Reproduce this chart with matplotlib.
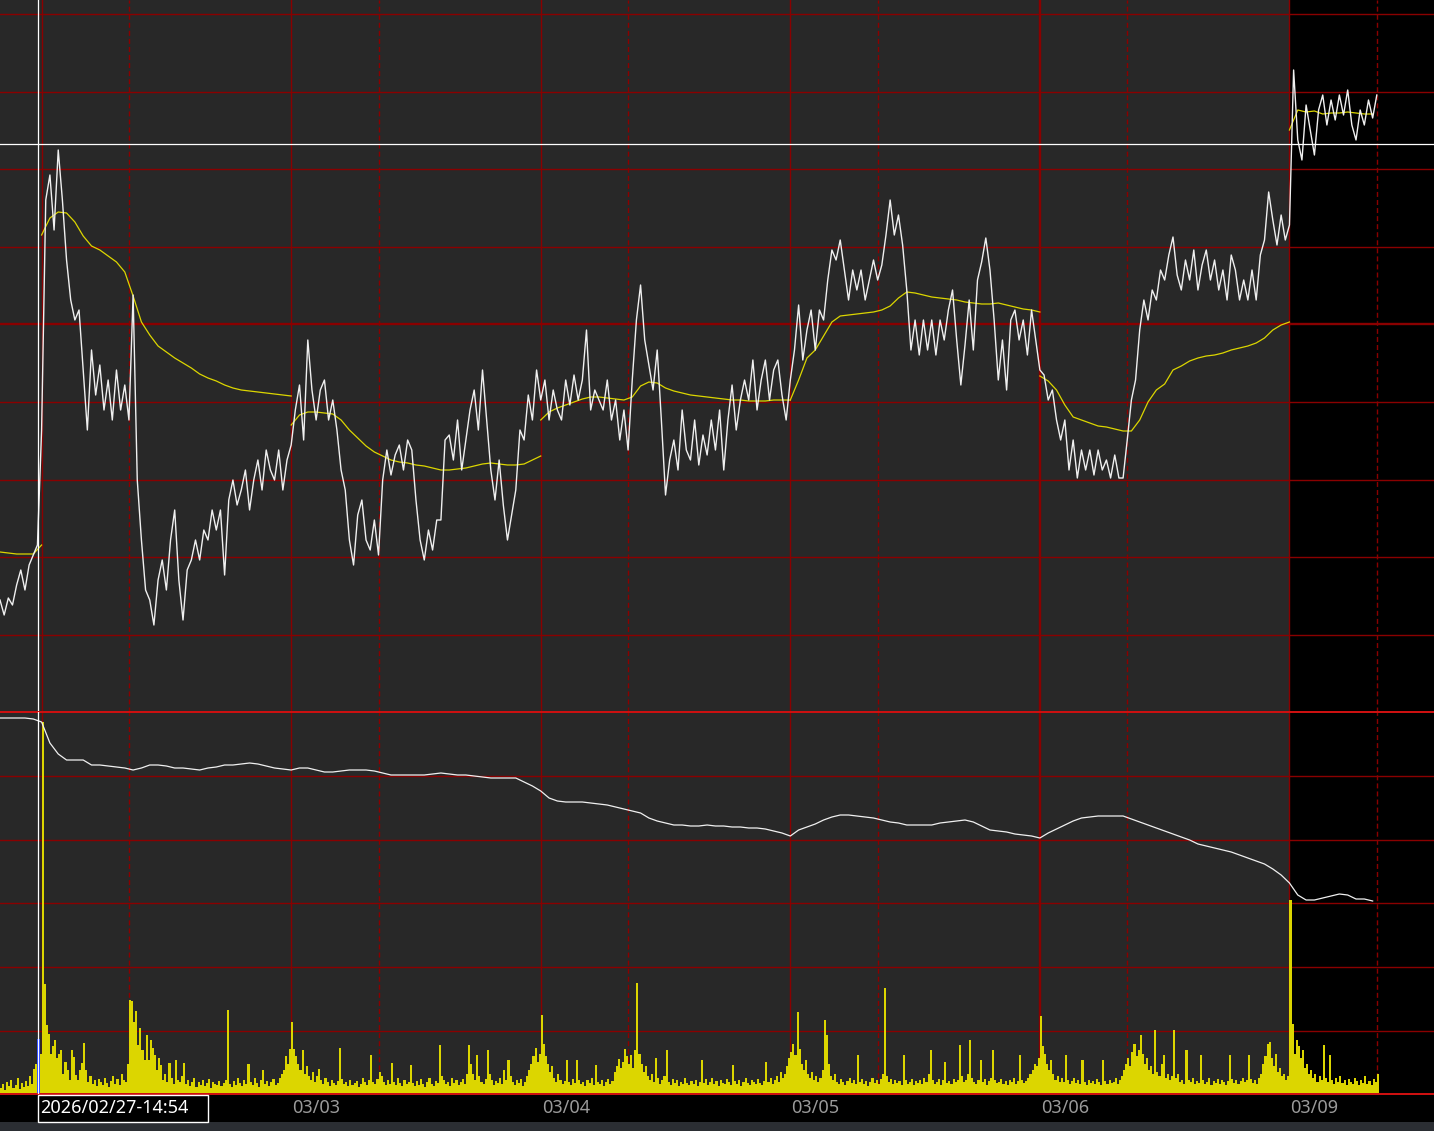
import matplotlib
matplotlib.use("Agg")
import matplotlib.pyplot as plt
import numpy as np
from matplotlib.patches import Rectangle

# 5-minute bars, one trading day = 240 bars, the first 84 of them the day session
DAY_SESSION_BARS = 84
DAY_STARTS = [40, 280, 520, 760, 1000, 1240]
DATE_LABELS = ["03/02", "03/03", "03/04", "03/05", "03/06", "03/09"]
CURSOR_BAR = 36.5
CURSOR_PRICE = 568
CURSOR_LABEL = "2026/02/27-14:54"

# price, one sample every 4 bars
PRICE_STEP = 4
price = [
    112, 97, 114, 107, 127, 142, 122, 147, 157, 167,
    282, 512, 537, 482, 562, 512, 452, 412, 392, 402,
    342, 282, 362, 317, 347, 302, 332, 292, 342, 302,
    327, 292, 417, 232, 172, 122, 112, 87, 132, 152,
    122, 172, 202, 132, 92, 142, 152, 172, 152, 182,
    172, 202, 182, 202, 137, 212, 232, 207, 222, 242,
    202, 232, 252, 222, 262, 242, 232, 262, 222, 252,
    267, 302, 327, 272, 372, 322, 292, 322, 332, 292,
    312, 282, 242, 222, 172, 147, 197, 212, 172, 162,
    192, 157, 232, 262, 237, 257, 267, 242, 272, 262,
    212, 172, 152, 182, 162, 192, 192, 272, 277, 252,
    292, 242, 272, 302, 322, 282, 342, 292, 242, 212,
    252, 207, 172, 197, 222, 282, 272, 317, 292, 342,
    312, 332, 292, 322, 302, 292, 332, 307, 337, 312,
    332, 382, 302, 322, 312, 302, 332, 292, 312, 272,
    302, 262, 332, 392, 427, 372, 347, 322, 362, 292,
    217, 252, 272, 242, 302, 262, 252, 292, 247, 277,
    257, 292, 262, 302, 242, 292, 327, 282, 312, 332,
    312, 352, 302, 332, 352, 312, 342, 352, 317, 292,
    332, 362, 407, 352, 382, 402, 362, 402, 392, 432,
    462, 452, 472, 442, 412, 442, 422, 442, 412, 432,
    452, 432, 447, 477, 512, 477, 497, 467, 422, 362,
    392, 357, 392, 362, 392, 357, 392, 372, 402, 422,
    372, 327, 367, 412, 362, 432, 450, 474, 442, 392,
    332, 372, 322, 392, 402, 372, 392, 357, 402, 372,
    342, 337, 312, 322, 292, 272, 292, 242, 272, 234,
    262, 242, 262, 237, 262, 242, 252, 234, 257, 234,
    234, 272, 312, 332, 382, 412, 392, 422, 412, 442,
    432, 457, 475, 437, 422, 452, 432, 462, 422, 447,
    462, 432, 452, 422, 442, 412, 457, 442, 412, 432,
    412, 442, 412, 457, 472, 520, 492, 467, 497, 472,
    487, 642, 572, 552, 607, 582, 557, 602, 617, 587,
    612, 592, 617, 597, 622, 587, 572, 602, 587, 612,
    594, 617,
]

# daily VWAP, one sample every 8 bars, restarting at each day start
VWAP_STEP = 8
vwap_prev = [160, 159, 158, 158, 158, 167]
vwap_days = [
    [477, 494, 500, 499, 490, 476, 466, 462, 456, 450, 440, 416, 390, 377, 366, 360,
     354, 349, 344, 338, 334, 331, 327, 324, 322, 321, 320, 319, 318, 317, 316],
    [287, 297, 300, 300, 299, 298, 292, 282, 274, 266, 260, 256, 252, 250, 249, 247,
     246, 244, 242, 242, 243, 244, 246, 248, 249, 248, 247, 247, 248, 252, 256],
    [292, 300, 304, 307, 310, 313, 315, 315, 314, 313, 312, 315, 326, 330, 329, 324,
     321, 319, 317, 316, 315, 314, 313, 312, 312, 311, 311, 311, 312, 312, 312],
    [312, 332, 354, 362, 376, 390, 396, 397, 398, 399, 400, 402, 406, 414, 420, 419,
     417, 415, 414, 413, 412, 410, 409, 408, 408, 409, 407, 405, 403, 402, 400],
    [336, 331, 322, 307, 295, 292, 289, 286, 285, 283, 281, 281, 292, 310, 322, 328,
     342, 346, 351, 354, 356, 357, 359, 362, 364, 366, 369, 374, 382, 387, 390],
    [582, 602, 600, 601, 598, 599, 599, 600, 599, 598, 598],
]

# lower-panel indicator, one sample every 8 bars
IND_STEP = 8
indicator = [
    376, 376, 376, 376, 375, 372, 351, 340, 334, 334,
    334, 329, 329, 328, 327, 326, 324, 326, 329, 329,
    328, 326, 326, 325, 324, 326, 327, 329, 329, 330,
    331, 330, 328, 326, 325, 324, 326, 326, 324, 322,
    322, 323, 324, 324, 324, 323, 321, 319, 319, 319,
    319, 319, 320, 321, 320, 319, 319, 318, 317, 316,
    316, 316, 316, 312, 308, 303, 296, 293, 292, 292,
    292, 291, 290, 289, 287, 285, 283, 281, 276, 273,
    271, 269, 269, 268, 268, 269, 268, 268, 267, 267,
    266, 266, 265, 263, 261, 258, 264, 267, 270, 274,
    277, 279, 279, 278, 277, 276, 274, 272, 271, 269,
    269, 269, 269, 271, 272, 273, 274, 272, 268, 264,
    263, 262, 260, 259, 258, 256, 261, 265, 269, 273,
    276, 277, 278, 278, 278, 278, 275, 272, 269, 266,
    263, 260, 257, 254, 250, 248, 246, 244, 242, 239,
    236, 233, 230, 225, 219, 211, 199, 194, 194, 196,
    198, 200, 199, 195, 195, 193,
]

# volume, one value per 2 bars
VOL_STEP = 2
volume = [
    6, 10, 4, 12, 8, 14, 6, 9, 16, 5, 11, 7, 13, 8, 18, 10, 25, 30, 55, 40,
    372, 110, 69, 60, 40, 48, 54, 36, 40, 44, 20, 32, 24, 14, 44, 37, 19, 14, 24, 31,
    51, 24, 12, 18, 10, 14, 8, 15, 12, 9, 16, 11, 7, 13, 18, 10, 15, 9, 20, 14,
    12, 30, 94, 93, 72, 83, 49, 66, 44, 34, 59, 34, 54, 46, 39, 24, 36, 29, 14, 20,
    12, 31, 16, 10, 34, 14, 12, 18, 31, 10, 14, 8, 12, 16, 7, 12, 9, 14, 8, 11,
    15, 6, 12, 10, 9, 13, 8, 11, 14, 84, 10, 7, 13, 9, 16, 11, 8, 14, 10, 30,
    12, 9, 16, 11, 7, 14, 24, 10, 13, 8, 12, 15, 9, 11, 16, 20, 24, 38, 30, 45,
    72, 45, 38, 30, 24, 44, 20, 28, 18, 14, 22, 12, 18, 25, 14, 10, 16, 12, 8, 14,
    11, 9, 13, 46, 15, 10, 12, 8, 14, 9, 11, 13, 7, 10, 16, 12, 9, 14, 39, 12,
    10, 15, 22, 18, 12, 9, 14, 10, 31, 12, 9, 16, 11, 8, 14, 10, 12, 29, 11, 8,
    13, 9, 15, 10, 7, 12, 16, 10, 8, 13, 11, 49, 18, 14, 10, 12, 8, 16, 11, 14,
    9, 12, 15, 10, 20, 49, 30, 20, 14, 39, 18, 12, 10, 15, 44, 20, 14, 9, 13, 11,
    16, 10, 24, 14, 34, 18, 12, 9, 14, 11, 15, 8, 12, 18, 24, 30, 38, 46, 32, 40,
    79, 50, 38, 30, 22, 28, 16, 12, 20, 14, 10, 13, 34, 12, 9, 15, 11, 34, 14, 10,
    12, 8, 14, 11, 16, 9, 29, 12, 10, 14, 8, 12, 15, 10, 13, 22, 28, 35, 26, 32,
    45, 38, 30, 39, 26, 44, 111, 40, 30, 22, 28, 18, 14, 20, 12, 36, 16, 10, 14, 18,
    44, 12, 9, 15, 11, 14, 8, 12, 10, 16, 11, 9, 13, 10, 14, 8, 12, 34, 11, 15,
    9, 12, 16, 10, 13, 8, 14, 11, 10, 15, 12, 9, 29, 13, 10, 14, 8, 12, 16, 11,
    9, 14, 12, 10, 15, 11, 9, 13, 32, 12, 16, 10, 14, 18, 12, 22, 16, 20, 28, 36,
    42, 50, 39, 82, 45, 30, 24, 34, 20, 16, 22, 14, 18, 12, 16, 24, 74, 59, 30, 18,
    14, 20, 12, 10, 15, 12, 9, 13, 16, 11, 14, 10, 39, 12, 15, 10, 13, 8, 12, 16,
    11, 14, 10, 15, 20, 106, 18, 12, 15, 10, 14, 11, 13, 9, 39, 14, 10, 12, 15, 9,
    13, 11, 14, 10, 16, 12, 20, 44, 14, 10, 12, 15, 9, 14, 32, 11, 13, 10, 15, 12,
    14, 49, 18, 12, 14, 20, 54, 16, 12, 10, 14, 34, 12, 15, 9, 13, 16, 44, 14, 11,
    12, 15, 10, 13, 9, 14, 12, 16, 10, 13, 39, 14, 11, 13, 16, 20, 24, 30, 28, 36,
    78, 48, 40, 30, 24, 34, 20, 14, 18, 12, 16, 12, 39, 14, 10, 13, 16, 11, 14, 10,
    34, 12, 9, 14, 11, 13, 10, 15, 12, 9, 34, 13, 10, 14, 11, 12, 16, 10, 14, 18,
    24, 30, 36, 28, 42, 50, 38, 44, 59, 40, 30, 36, 24, 28, 20, 64, 22, 18, 30, 39,
    16, 20, 14, 18, 64, 16, 20, 12, 14, 10, 44, 14, 12, 16, 10, 13, 11, 39, 14, 10,
    12, 16, 9, 13, 11, 15, 10, 14, 12, 9, 13, 39, 15, 11, 14, 10, 13, 16, 12, 14,
    39, 15, 11, 14, 10, 16, 20, 30, 38, 50, 52, 36, 28, 40, 22, 26, 18, 20, 14, 18,
    194, 70, 40, 54, 48, 36, 44, 26, 30, 20, 24, 16, 20, 12, 18, 14, 49, 16, 12, 39,
    14, 10, 16, 12, 18, 11, 14, 9, 15, 12, 10, 16, 13, 9, 14, 11, 18, 10, 13, 9,
    15, 12, 20,
]

BG = "#282828"
GRID_RED = "#8a0000"
EDGE_RED = "#cc1010"
WHITE = "#f0f0f0"
YELLOW = "#dcd600"
THIN = 1.0
THICK = 1.7

W, H = 1434, 1131
X_MAX = 1379
fig = plt.figure(figsize=(W / 100, H / 100), dpi=100, facecolor="black")
# upper panel 0-712 px from the top, lower panel 712-1094 px
ax_top = fig.add_axes([0, (H - 712) / H, 1, 712 / H])
ax_bot = fig.add_axes([0, (H - 1094) / H, 1, 382 / H])

for ax in (ax_top, ax_bot):
    ax.set_facecolor(BG)
    ax.set_xlim(0, X_MAX)
    ax.set_xticks([])
    ax.set_yticks([])
    for sp in ax.spines.values():
        sp.set_visible(False)
    # current trading day drawn on black
    ax.axvspan(DAY_STARTS[-1], X_MAX, color="black", zorder=0, lw=0)
    for s in DAY_STARTS:
        lw = THICK if s == 1000 else THIN
        ax.axvline(s, color=GRID_RED, lw=lw, zorder=1)
        ax.axvline(s + DAY_SESSION_BARS, color=GRID_RED, lw=THIN,
                   dashes=(3.6, 2.2), zorder=1)

# upper panel: price and daily VWAP
ax_top.set_ylim(0, 712)
levels = np.floor(np.arange(1, 10) * 77.6) + 0.5
for i, lev in enumerate(levels):
    ax_top.axhline(lev, color=GRID_RED, lw=THICK if i == 4 else THIN, zorder=1)

ax_top.plot(np.arange(len(vwap_prev)) * VWAP_STEP, vwap_prev, color=YELLOW, lw=0.9, zorder=3)
for s, seg in zip(DAY_STARTS, vwap_days):
    ax_top.plot(s + np.arange(len(seg)) * VWAP_STEP, seg, color=YELLOW, lw=0.9, zorder=3)
ax_top.plot(np.arange(len(price)) * PRICE_STEP, price, color=WHITE, lw=1.0, zorder=4)

# lower panel: indicator and volume
ax_bot.set_ylim(0, 382)
for lev in np.floor(np.arange(1, 6) * 63.7) + 0.5:
    ax_bot.axhline(lev, color=GRID_RED, lw=THIN, zorder=1)
vol_colors = [YELLOW] * len(volume)
vol_colors[int(CURSOR_BAR // VOL_STEP)] = "#2040ff"
ax_bot.bar(np.arange(len(volume)) * VOL_STEP, volume, width=VOL_STEP, align="edge",
           color=vol_colors, linewidth=0, antialiased=False, zorder=2)
ax_bot.plot(np.arange(len(indicator)) * IND_STEP, indicator, color=WHITE, lw=0.9, zorder=4)
ax_bot.axhline(382, color=EDGE_RED, lw=1.44, zorder=5, clip_on=False, antialiased=False)
ax_bot.axhline(0, color=EDGE_RED, lw=1.44, zorder=5, clip_on=False, antialiased=False)

# crosshair
ax_top.axhline(CURSOR_PRICE + 0.5, color="white", lw=0.9, zorder=6)
for ax in (ax_top, ax_bot):
    ax.axvline(CURSOR_BAR, color="white", lw=0.9, zorder=6)

# date labels along the bottom
for s, lab in zip(DAY_STARTS[1:], DATE_LABELS[1:]):
    ax_bot.text(s + 1, -0.037, lab, transform=ax_bot.get_xaxis_transform(),
                ha="left", va="center", color="#9a9a9a", fontsize=13,
                family="Noto Sans", clip_on=False)

# bottom status strip and cursor time label
fig.add_artist(Rectangle((0, 0), 1, 9 / H, transform=fig.transFigure,
                         facecolor="#2b2e33", edgecolor="none"))
fig.add_artist(Rectangle((38 / W, 9 / H), 170 / W, 27 / H, transform=fig.transFigure,
                         facecolor="black", edgecolor="white", lw=1.0))
fig.text(40 / W, 23 / H, CURSOR_LABEL, color="white", fontsize=13,
         family="Noto Sans", ha="left", va="center")

fig.savefig("out.png", dpi=100, facecolor="black")
